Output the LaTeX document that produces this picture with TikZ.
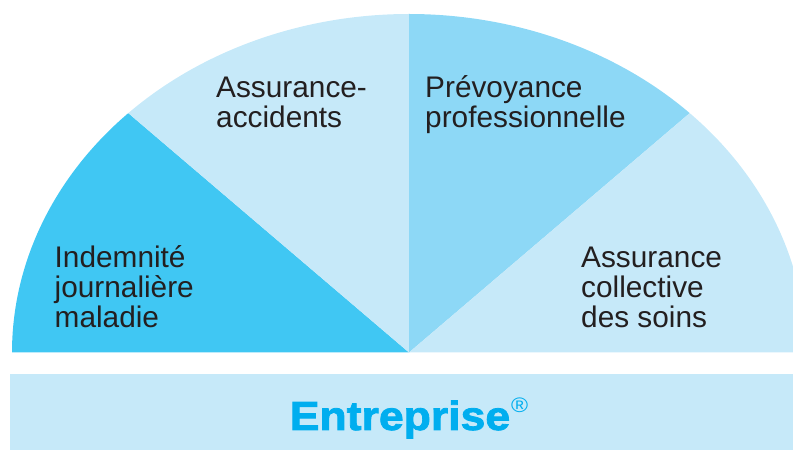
\documentclass[tikz,border=0pt]{standalone}
\usepackage{fontspec}
\setmainfont{Liberation Sans}
\newfontfamily\entfont{Liberation Sans}[FakeStretch=1.1, BoldFeatures={FakeBold=2}]
\definecolor{cLight}{HTML}{C6E9F9}
\definecolor{cDark}{HTML}{40C7F3}
\definecolor{cMid}{HTML}{8DD8F6}
\definecolor{cEnt}{HTML}{00AEEF}
\definecolor{cText}{HTML}{231F20}
\begin{document}
\begin{tikzpicture}[x=1pt,y=1pt,
  lbl/.style={anchor=base west, align=left, inner sep=0pt, text=cText,
    font=\fontsize{29.8}{30}\selectfont},
  entlbl/.style={anchor=base, inner sep=0pt, text=cEnt,
    font=\entfont\bfseries\fontsize{40.5}{40.5}\selectfont}]
\useasboundingbox (0,0) rectangle (793,450);
\begin{scope}
  \clip (0,0) rectangle (793,450);
  \coordinate (O) at (409,97.5);
  \fill[cDark] (O) -- ([shift={(180:397 and 338.5)}]O)
     arc[start angle=180, end angle=135, x radius=397, y radius=338.5] -- cycle;
  \fill[cLight] (O) -- ([shift={(135:397 and 338.5)}]O)
     arc[start angle=135, end angle=90, x radius=397, y radius=338.5] -- cycle;
  \fill[cMid] (O) -- ([shift={(90:397 and 338.5)}]O)
     arc[start angle=90, end angle=45, x radius=397, y radius=338.5] -- cycle;
  \fill[cLight] (O) -- ([shift={(45:397 and 338.5)}]O)
     arc[start angle=45, end angle=0, x radius=397, y radius=338.5] -- cycle;
  \fill[cLight] (10,0) rectangle (800,76.3);
\end{scope}
\node[lbl] (ijm) at (54.5,122.3) {Indemnité\\journalière\\maladie};
\node[lbl] (aa) at (216,322.3) {Assurance-\\accidents};
\node[lbl] (pp) at (425,322.3) {Prévoyance\\professionnelle};
\node[lbl] (acs) at (581,122.3) {Assurance\\collective\\des soins};
\node[entlbl] (ent) at (409,20) {Entreprise\kern1pt\raisebox{17pt}{\fontsize{21}{21}\selectfont\mdseries ®}};
\end{tikzpicture}
\end{document}
